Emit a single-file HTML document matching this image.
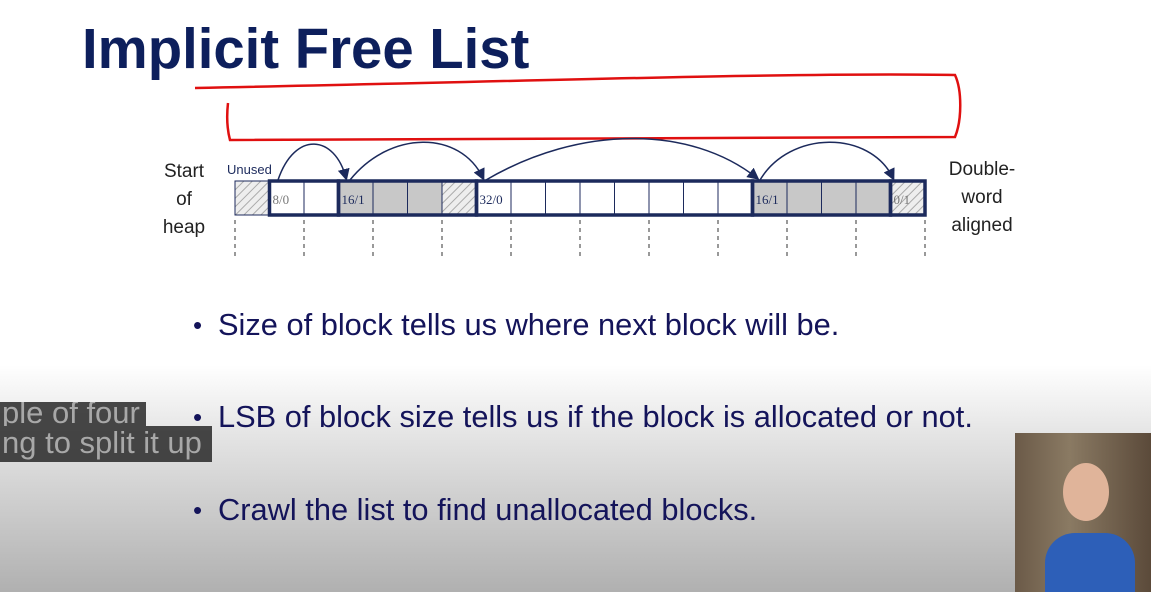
<!DOCTYPE html>
<html><head><meta charset="utf-8"><style>
body{margin:0;width:1151px;height:592px;overflow:hidden;font-family:"Liberation Sans",sans-serif;position:relative;
background:linear-gradient(#fff 0,#fff 365px,#e6e6e6 430px,#c8c8c8 520px,#b0b0b0 592px);}
.t{position:absolute;color:#0d1f5c;}
.b{position:absolute;left:218px;font-size:30.8px;color:#14145a;white-space:nowrap;}
.b::before{content:"•";position:absolute;left:-25px;font-size:26px;top:3px}
.cap{position:absolute;background:rgba(40,40,40,.85);color:#a8a8a8;font-size:31px;line-height:34px;padding:0 2px;white-space:nowrap;overflow:hidden;}
</style></head><body>
<div class="t" style="left:82px;top:16px;font-size:56.3px;font-weight:bold;">Implicit Free List</div>
<svg width="1151" height="300" style="position:absolute;left:0;top:0">
<defs><pattern id="h" width="6" height="6" patternUnits="userSpaceOnUse" patternTransform="rotate(45)"><rect width="6" height="6" fill="#eee"/><line x1="0" y1="0" x2="0" y2="6" stroke="#aaa" stroke-width="2"/></pattern>
<marker id="a" markerWidth="8" markerHeight="8" refX="6" refY="4" orient="auto"><path d="M0,0L8,4L0,8z" fill="#1c2a5c"/></marker></defs>
<path d="M195,88 C500,82 800,72 955,75 C962,90 962,120 955,137 C700,140 450,138 230,140 C226,125 227,112 228,103" fill="none" stroke="#e01010" stroke-width="2.5"/>
<g id="cells"></g>
<g fill="none" stroke="#1c2a5c" stroke-width="1.5" marker-end="url(#a)">
<path d="M278,180 C295,130 335,135 346,178"/>
<path d="M350,180 C390,130 460,130 483,178"/>
<path d="M486,180 C580,125 690,125 757,178"/>
<path d="M760,180 C790,130 870,130 893,178"/>
</g>
<text x="227" y="174" font-size="13" fill="#1c2a5c">Unused</text>
</svg>
<div class="t" style="left:160px;top:158px;font-size:19px;line-height:28px;text-align:center;width:48px;color:#222">Start of heap</div>
<div class="t" style="left:940px;top:156px;font-size:19px;line-height:28px;text-align:center;width:84px;color:#222">Double-word aligned</div>
<div class="b" style="top:307px">Size of block tells us where next block will be.</div>
<div class="b" style="top:399px">LSB of block size tells us if the block is allocated or not.</div>
<div class="b" style="top:492px">Crawl the list to find unallocated blocks.</div>
<div class="cap" style="left:0;top:402px;width:142px;height:24px;line-height:22px;">ple of four</div>
<div class="cap" style="left:0;top:426px;width:208px;height:36px">ng to split it up</div>
<div style="position:absolute;left:1015px;top:433px;width:136px;height:159px;background:linear-gradient(90deg,#6b5a48,#8a7a63 40%,#5b4a3a);overflow:hidden">
<div style="position:absolute;left:48px;top:30px;width:46px;height:58px;border-radius:50%;background:#e0b49a"></div>
<div style="position:absolute;left:30px;top:100px;width:90px;height:70px;border-radius:30px 30px 0 0;background:#2d5fb8"></div>
</div>
<script>
const cellFill=['h','w','w','g','g','g','h','w','w','w','w','w','w','w','w','g','g','g','g','h'];
const cellLabels={1:'8/0',3:'16/1',7:'32/0',15:'16/1',19:'0/1'};
const blockBounds=[1,3,7,15,19,20];
const g=document.getElementById('cells');const ns='http://www.w3.org/2000/svg';
const x0=235,w=34.5,y=181,hgt=34;
cellFill.forEach((f,i)=>{const r=document.createElementNS(ns,'rect');
r.setAttribute('x',x0+i*w);r.setAttribute('y',y);r.setAttribute('width',w);r.setAttribute('height',hgt);
r.setAttribute('fill',f=='h'?'url(#h)':f=='g'?'#c8c8c8':'#fff');r.setAttribute('stroke','#1c2a5c');r.setAttribute('stroke-width','1');


g.appendChild(r);
if(cellLabels[i]){const t=document.createElementNS(ns,'text');t.setAttribute('x',x0+i*w+3);t.setAttribute('y',y+23);t.setAttribute('font-size','13');t.setAttribute('font-family','Liberation Serif');t.setAttribute('fill',i==1||i==19?'#777':'#1c2a5c');t.textContent=cellLabels[i];


g.appendChild(t);}
});
for(let k=0;k<blockBounds.length-1;k++){const r=document.createElementNS(ns,'rect');const a=blockBounds[k],b=blockBounds[k+1];
r.setAttribute('x',x0+a*w);r.setAttribute('y',y);r.setAttribute('width',(b-a)*w);r.setAttribute('height',hgt);r.setAttribute('fill','none');r.setAttribute('stroke','#1c2a5c');r.setAttribute('stroke-width','3.5');


g.appendChild(r);}
for(let i=0;i<=20;i+=2){const l=document.createElementNS(ns,'line');l.setAttribute('x1',x0+i*w);l.setAttribute('x2',x0+i*w);l.setAttribute('y1',220);l.setAttribute('y2',256);l.setAttribute('stroke','#333');l.setAttribute('stroke-dasharray','4,4');


g.appendChild(l);}
</script>
</body></html>
